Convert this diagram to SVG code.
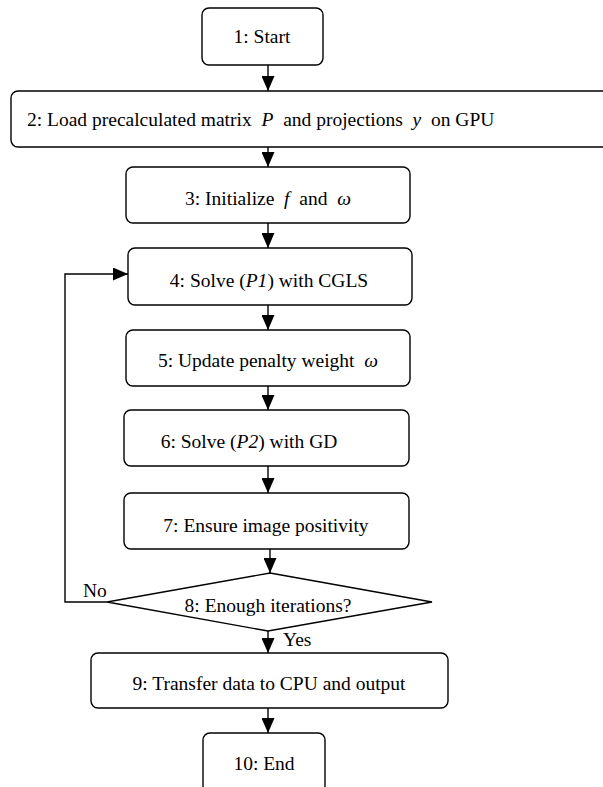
<svg xmlns="http://www.w3.org/2000/svg" width="603" height="787" viewBox="0 0 603 787">
<defs>
<marker id="ah" markerUnits="userSpaceOnUse" viewBox="0 0 15 13" refX="15" refY="6.5" markerWidth="15" markerHeight="13" orient="auto">
<path d="M0,0 L15,6.5 L0,13 z" fill="#000"/>
</marker>
<style>
.box{fill:#fff;stroke:#000;stroke-width:1.4}
.t{font-family:"Liberation Serif","Times New Roman",serif;font-size:19.5px;fill:#000}
.t.m{text-anchor:middle}
.i{font-style:italic}
.c{fill:none;stroke:#000;stroke-width:1.4}
</style>
</defs>
<rect width="603" height="787" fill="#fff"/>
<g id="connectors">
<line class="c" x1="268" y1="65" x2="268" y2="91" marker-end="url(#ah)"/>
<line class="c" x1="268" y1="147" x2="268" y2="167" marker-end="url(#ah)"/>
<line class="c" x1="268" y1="223" x2="268" y2="248" marker-end="url(#ah)"/>
<line class="c" x1="268" y1="305" x2="268" y2="330" marker-end="url(#ah)"/>
<line class="c" x1="268" y1="386" x2="268" y2="410" marker-end="url(#ah)"/>
<line class="c" x1="268" y1="466" x2="268" y2="493" marker-end="url(#ah)"/>
<line class="c" x1="270" y1="549" x2="270" y2="573" marker-end="url(#ah)"/>
<line class="c" x1="268" y1="631" x2="268" y2="653" marker-end="url(#ah)"/>
<line class="c" x1="268" y1="708" x2="268" y2="733" marker-end="url(#ah)"/>
<polyline class="c" points="107,602 65,602 65,274 128,274" marker-end="url(#ah)"/>
<text class="t" x="83" y="597">No</text>
<text class="t" x="283" y="646">Yes</text>
</g>
<g id="n1"><rect class="box" x="202" y="8" width="121" height="57" rx="7"/><text class="t m" x="262" y="43">1: Start</text></g>
<g id="n2"><rect class="box" x="11" y="91" width="602" height="56" rx="7"/><text class="t" x="27" y="126" xml:space="preserve">2: Load precalculated matrix  <tspan class="i">P</tspan>  and projections  <tspan class="i">y</tspan>  on GPU</text></g>
<g id="n3"><rect class="box" x="126" y="167" width="284" height="56" rx="7"/><text class="t m" x="268" y="205" xml:space="preserve">3: Initialize  <tspan class="i">f</tspan>  and  <tspan class="i">ω</tspan></text></g>
<g id="n4"><rect class="box" x="128" y="248" width="284" height="57" rx="7"/><text class="t m" x="269" y="287">4: Solve (<tspan class="i">P1</tspan>) with CGLS</text></g>
<g id="n5"><rect class="box" x="126" y="330" width="284" height="56" rx="7"/><text class="t m" x="268" y="367" xml:space="preserve">5: Update penalty weight  <tspan class="i">ω</tspan></text></g>
<g id="n6"><rect class="box" x="124" y="410" width="285" height="56" rx="7"/><text class="t m" x="249" y="448">6: Solve (<tspan class="i">P2</tspan>) with GD</text></g>
<g id="n7"><rect class="box" x="124" y="493" width="285" height="56" rx="7"/><text class="t m" x="266" y="532">7: Ensure image positivity</text></g>
<g id="n8"><polygon class="box" points="270,573 432,602 268,631 107,602"/><text class="t m" x="268" y="612">8: Enough iterations?</text></g>
<g id="n9"><rect class="box" x="91" y="653" width="357" height="55" rx="7"/><text class="t m" x="269" y="690">9: Transfer data to CPU and output</text></g>
<g id="n10"><rect class="box" x="203" y="733" width="122" height="64" rx="7"/><text class="t m" x="264" y="770">10: End</text></g>
</svg>
